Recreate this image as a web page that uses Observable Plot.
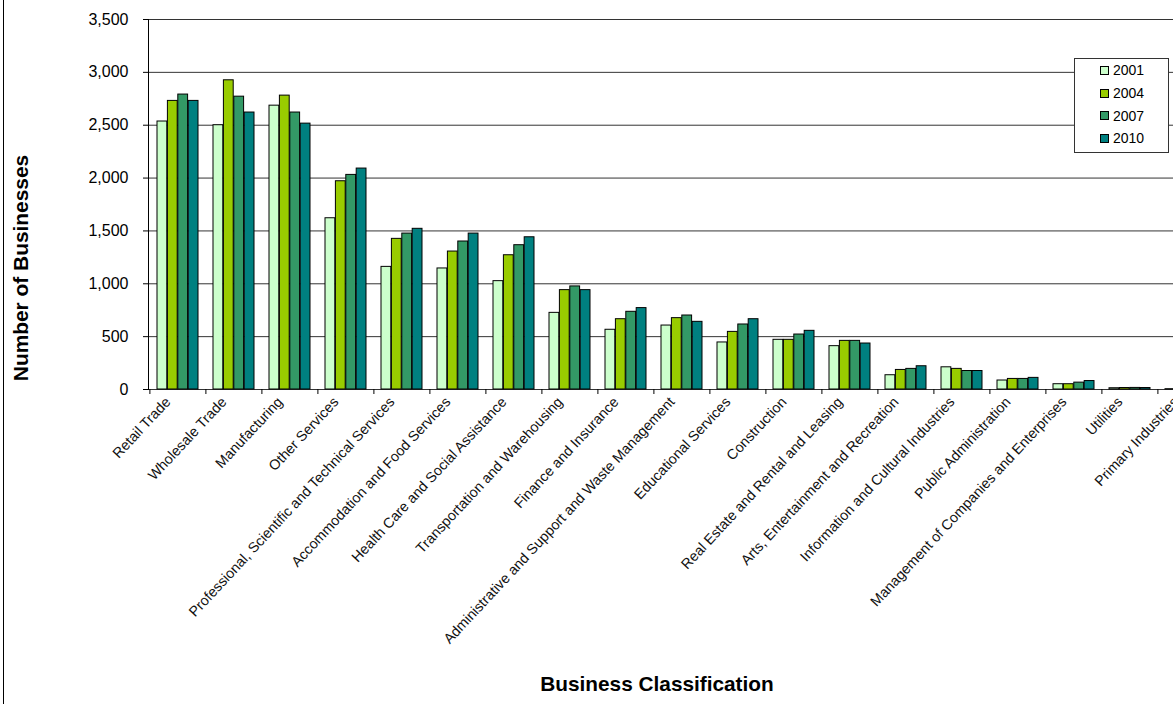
<!DOCTYPE html>
<html>
<head>
<meta charset="utf-8">
<script src="https://cdn.jsdelivr.net/npm/d3@7"></script>
<script src="https://cdn.jsdelivr.net/npm/@observablehq/plot@0.6"></script>
<style>
  html, body { margin: 0; padding: 0; background: #fff; overflow: hidden; width: 1173px; height: 704px; }
  #wrap { position: relative; width: 1173px; height: 704px; overflow: hidden; font-family: "Liberation Sans", Arial, sans-serif; }
  #chart { position: absolute; left: 0; top: 0; width: 1230px; }
  #chart svg { max-width: none !important; }
  .border { position: absolute; left: 3px; top: 0; width: 0; height: 704px; border-left: 1px solid #000; }
  .ytitle { position: absolute; left: 21px; top: 268px; transform: translate(-50%, -50%) rotate(-90deg); font-weight: bold; font-size: 20.9px; white-space: nowrap; color: #000; }
  .xtitle { position: absolute; left: 657px; top: 684px; transform: translate(-50%, -50%); font-weight: bold; font-size: 20.8px; white-space: nowrap; color: #000; }
  .legend { position: absolute; left: 1074px; top: 58px; width: 95px; height: 95px; border: 1px solid #333; background: #fff; box-sizing: border-box; padding-top: 0px; }
  .legend .item { height: 22.7px; display: flex; align-items: center; padding-left: 25px; font-size: 14px; color: #000; }
  .legend .sw { width: 7px; height: 7px; border: 1px solid #000; margin-right: 4px; }
</style>
</head>
<body>
<div id="wrap">
  <div id="chart"></div>
  <div class="border"></div>
  <div class="ytitle">Number of Businesses</div>
  <div class="xtitle">Business Classification</div>
  <div class="legend" id="legend"></div>
</div>
<script>
const categories = [
  "Retail Trade", "Wholesale Trade", "Manufacturing", "Other Services",
  "Professional, Scientific and Technical Services", "Accommodation and Food Services",
  "Health Care and Social Assistance", "Transportation and Warehousing",
  "Finance and Insurance", "Administrative and Support and Waste Management",
  "Educational Services", "Construction", "Real Estate and Rental and Leasing",
  "Arts, Entertainment and Recreation", "Information and Cultural Industries",
  "Public Administration", "Management of Companies and Enterprises",
  "Utilities", "Primary Industries"
];
const years = ["2001", "2004", "2007", "2010"];
const colors = ["#CCFFCC", "#99CC00", "#339966", "#008080"];
const v2001 = [2535, 2500, 2685, 1620, 1160, 1145, 1025, 725, 565, 605, 445, 470, 410, 135, 210, 85, 50, 12, 3];
const v2004 = [2730, 2925, 2780, 1970, 1425, 1305, 1270, 940, 665, 675, 545, 470, 460, 185, 195, 100, 50, 14, 3];
const v2007 = [2790, 2770, 2620, 2030, 1475, 1400, 1365, 975, 735, 700, 615, 520, 460, 195, 175, 100, 65, 15, 3];
const v2010 = [2730, 2620, 2515, 2090, 1520, 1475, 1440, 940, 770, 640, 665, 555, 435, 220, 175, 110, 80, 14, 3];
const yTicks = [0, 500, 1000, 1500, 2000, 2500, 3000, 3500];

const series = [v2001, v2004, v2007, v2010];

const W = 1230, ML = 148, MR = 14;
const PAD_IN = 0.26, PAD_OUT = 0.13;
const step = (W - ML - MR) / (categories.length - PAD_IN + 2 * PAD_OUT);
const bandW = step * (1 - PAD_IN);
const barW = bandW / years.length;

const barMarks = years.map((y, j) => Plot.barY(
  categories.map((c, i) => ({category: c, year: y, value: series[j][i]})),
  {x: "category", y: "value", fill: "year", stroke: "#000", strokeWidth: 1,
   insetLeft: j * barW, insetRight: (years.length - 1 - j) * barW}
));

const chart = Plot.plot({
  width: W,
  height: 704,
  marginLeft: ML,
  marginRight: MR,
  marginTop: 19,
  marginBottom: 315,
  style: {fontFamily: "'Liberation Sans', Arial, sans-serif", color: "#000", background: "transparent", maxWidth: "none"},
  x: {domain: categories, paddingInner: PAD_IN, paddingOuter: PAD_OUT, label: null},
  y: {domain: [0, 3500], label: null},
  color: {domain: years, range: colors},
  marks: [
    Plot.ruleY(yTicks, {stroke: "#000", strokeOpacity: 0.8}),
    ...barMarks,
    Plot.axisY({ticks: yTicks, tickFormat: d3.format(","), tickSize: 5, tickPadding: 15, fontSize: 16, label: null}),
    Plot.axisX({tickSize: 0, tickRotate: -47, tickPadding: 10, dx: -10, fontSize: 14.3, fill: "#111", label: null}),
    Plot.axisX({text: null, tickSize: 5, dx: -step / 2, label: null}),
    Plot.frame({anchor: "left"})
  ]
});
document.getElementById("chart").appendChild(chart);

const legend = document.getElementById("legend");
years.forEach((y, j) => {
  const it = document.createElement("div");
  it.className = "item";
  const sw = document.createElement("span");
  sw.className = "sw";
  sw.style.background = colors[j];
  it.appendChild(sw);
  it.appendChild(document.createTextNode(y));
  legend.appendChild(it);
});
</script>
</body>
</html>
